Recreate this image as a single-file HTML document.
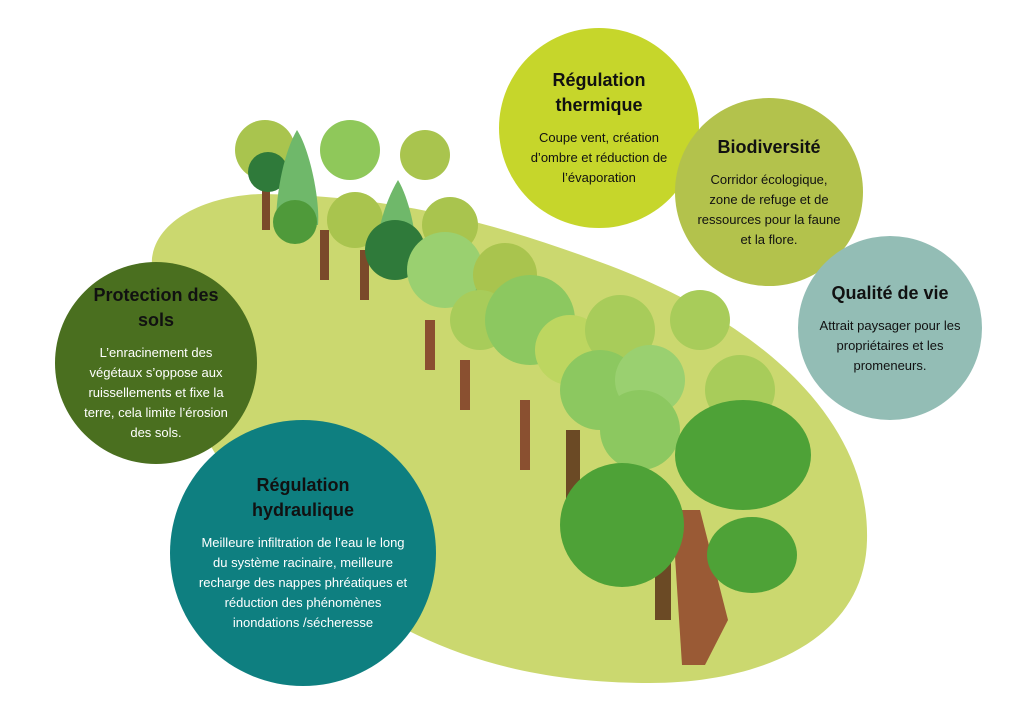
<!DOCTYPE html>
<html><head><meta charset="utf-8"><style>
html,body{margin:0;padding:0;background:#fff;width:1024px;height:724px;overflow:hidden;}
body{position:relative;font-family:"Liberation Sans",sans-serif;}
svg{display:block;}
.c{position:absolute;border-radius:50%;display:flex;flex-direction:column;align-items:center;justify-content:center;text-align:center;box-sizing:border-box;}
.c b{display:block;font-weight:bold;font-size:18px;line-height:25px;margin-bottom:10px;}
.c p{margin:0;font-size:13px;line-height:20px;}
</style></head><body>
<svg width="1024" height="724" style="position:absolute;left:0;top:0">
<path d="M152,258 C158,215 215,195 262,194 C400,196 500,225 600,262 C760,320 870,420 867,540 C865,640 760,683 650,683 C500,683 400,640 300,560 C200,470 148,320 152,258 Z" fill="#cbd86f"/>
<g>
<rect x="262" y="180" width="8" height="50" fill="#7a4a2a"/>
<rect x="320" y="230" width="9" height="50" fill="#7a4a2a"/>
<rect x="360" y="250" width="9" height="50" fill="#7a4a2a"/>
<rect x="425" y="320" width="10" height="50" fill="#8a5030"/>
<rect x="460" y="360" width="10" height="50" fill="#8a5030"/>
<rect x="520" y="400" width="10" height="70" fill="#8a5030"/>
<rect x="566" y="430" width="14" height="70" fill="#6b4a25"/>
<rect x="655" y="560" width="16" height="60" fill="#6b4a25"/>
<polygon points="672,510 700,510 728,620 705,665 682,665" fill="#9a5a35"/>
<circle cx="265" cy="150" r="30" fill="#a9c44e"/>
<circle cx="268" cy="172" r="20" fill="#2f7a3a"/>
<path d="M297,130 C310,150 320,200 318,225 L276,225 C276,190 285,150 297,130 Z" fill="#6fb86a"/>
<circle cx="350" cy="150" r="30" fill="#8fc85a"/>
<circle cx="425" cy="155" r="25" fill="#a9c44e"/>
<circle cx="295" cy="222" r="22" fill="#4f9a3a"/>
<circle cx="355" cy="220" r="28" fill="#a9c44e"/>
<path d="M398,180 C410,200 418,240 416,262 L376,262 C376,230 386,200 398,180 Z" fill="#6fb86a"/>
<circle cx="395" cy="250" r="30" fill="#2f7a3a"/>
<circle cx="450" cy="225" r="28" fill="#a9c44e"/>
<circle cx="445" cy="270" r="38" fill="#9ad070"/>
<path d="M492,250 C508,275 515,320 512,345 L468,345 C468,310 478,275 492,250 Z" fill="#6fb86a"/>
<circle cx="505" cy="275" r="32" fill="#a9c44e"/>
<circle cx="480" cy="320" r="30" fill="#a8cc5a"/>
<circle cx="530" cy="320" r="45" fill="#8cc860"/>
<circle cx="570" cy="350" r="35" fill="#bdd660"/>
<circle cx="620" cy="330" r="35" fill="#a8cc5a"/>
<circle cx="600" cy="390" r="40" fill="#8cc860"/>
<circle cx="650" cy="380" r="35" fill="#9ad070"/>
<circle cx="700" cy="320" r="30" fill="#a8cc5a"/>
<circle cx="740" cy="390" r="35" fill="#a8cc5a"/>
<circle cx="640" cy="430" r="40" fill="#8cc860"/>
<ellipse cx="743" cy="455" rx="68" ry="55" fill="#4ea237"/>
<ellipse cx="752" cy="555" rx="45" ry="38" fill="#4ea237"/>
<ellipse cx="622" cy="525" rx="62" ry="62" fill="#4ea237"/>
</g>
</svg>
<div class="c" style="left:499px;top:28px;width:200px;height:200px;background:#c6d62b;color:#111;padding:0 24px;">
<b>Régulation<br>thermique</b><p>Coupe vent, création d’ombre et réduction de l’évaporation</p></div>
<div class="c" style="left:675px;top:98px;width:188px;height:188px;background:#b3c24c;color:#111;padding:0 22px;">
<b>Biodiversité</b><p>Corridor écologique, zone de refuge et de ressources pour la faune et la flore.</p></div>
<div class="c" style="left:798px;top:236px;width:184px;height:184px;background:#93bdb5;color:#111;padding:0 16px;">
<b>Qualité de vie</b><p>Attrait paysager pour les propriétaires et les promeneurs.</p></div>
<div class="c" style="left:55px;top:262px;width:202px;height:202px;background:#4a6f1f;color:#fff;padding:0 20px;">
<b style="color:#111">Protection des<br>sols</b><p>L’enracinement des végétaux s’oppose aux ruissellements et fixe la terre, cela limite l’érosion des sols.</p></div>
<div class="c" style="left:170px;top:420px;width:266px;height:266px;background:#0e7f80;color:#fff;padding:0 26px;">
<b style="color:#111">Régulation<br>hydraulique</b><p>Meilleure infiltration de l’eau le long du système racinaire, meilleure recharge des nappes phréatiques et réduction des phénomènes inondations /sécheresse</p></div>
</body></html>
